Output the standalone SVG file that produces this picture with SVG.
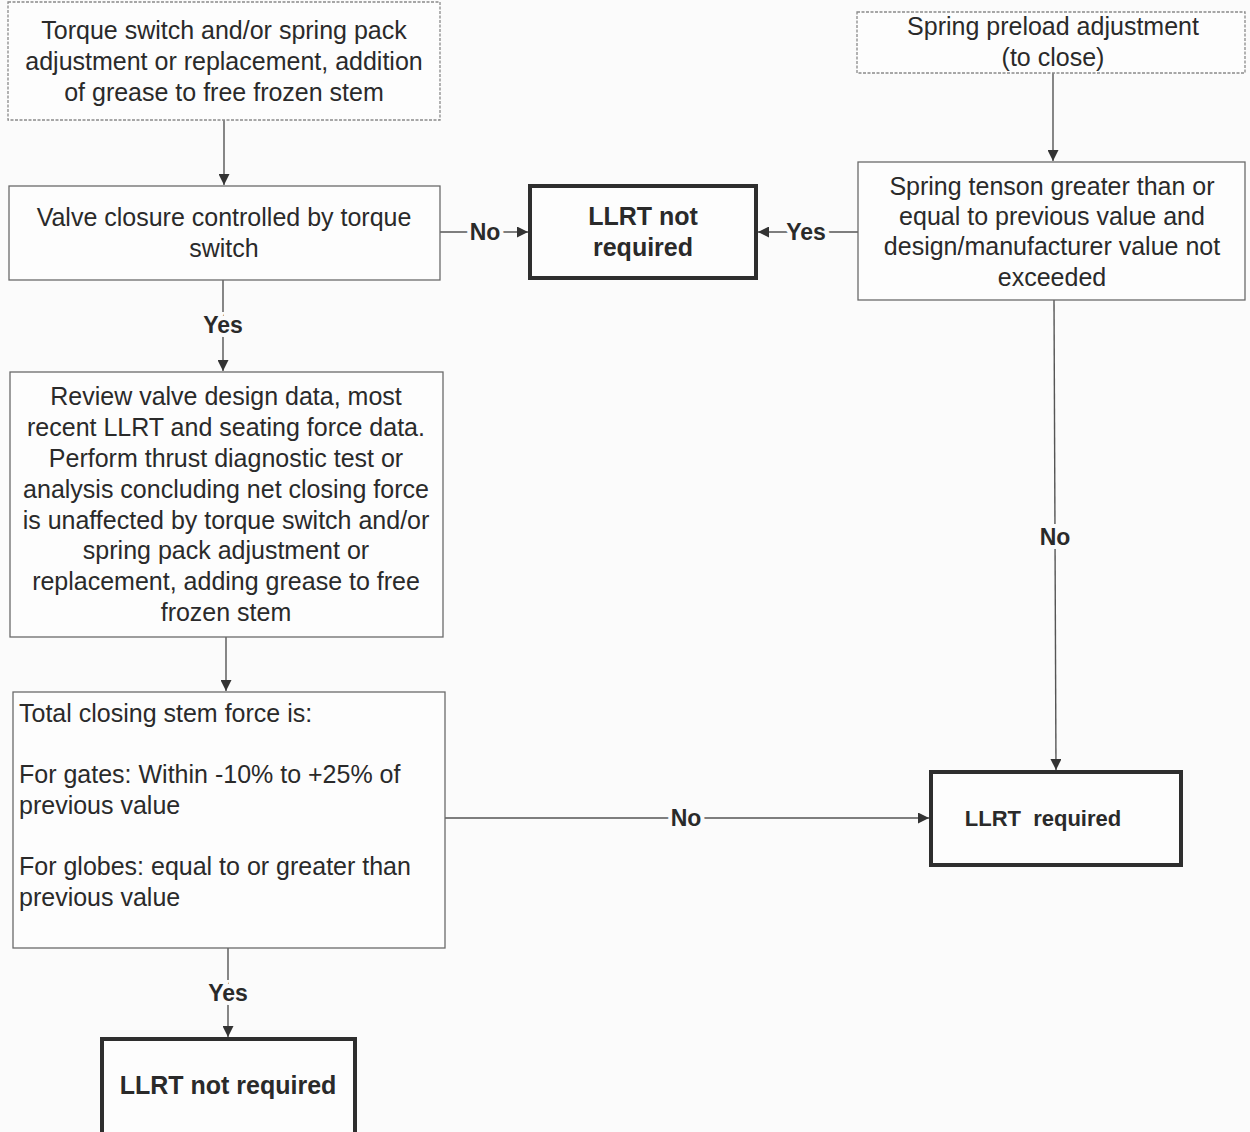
<svg xmlns="http://www.w3.org/2000/svg" width="1250" height="1132" viewBox="0 0 1250 1132">
<defs>
<style>
.bg{fill:#fbfbfb}
.box{fill:#fdfdfd;stroke:#6a6a6a;stroke-width:1.3}
.dbox{fill:#fdfdfd;stroke:#8a8a8a;stroke-width:1.3;stroke-dasharray:3 1.5}
.tbox{fill:#fdfdfd;stroke:#2e2e2e;stroke-width:4}
.t{font-family:"Liberation Sans",Arial,sans-serif;font-size:25px;fill:#2a2a2a;text-anchor:middle}
.tl{font-family:"Liberation Sans",Arial,sans-serif;font-size:25px;fill:#2a2a2a}
.b{font-family:"Liberation Sans",Arial,sans-serif;font-size:25px;font-weight:bold;fill:#2a2a2a;text-anchor:middle}
.lab{font-family:"Liberation Sans",Arial,sans-serif;font-size:23px;font-weight:bold;fill:#2a2a2a;text-anchor:middle;stroke:#fbfbfb;stroke-width:8;paint-order:stroke}
.c{stroke:#555;stroke-width:1.4;fill:none}
</style>
<marker id="ah" viewBox="0 0 10 10" refX="10" refY="5" markerWidth="11" markerHeight="11" markerUnits="userSpaceOnUse" orient="auto">
<path d="M0,0 L10,5 L0,10 Z" fill="#333"/>
</marker>
</defs>
<rect class="bg" x="0" y="0" width="1250" height="1132"/>
<g id="connectors">
<line class="c" x1="224" y1="120" x2="224" y2="185" marker-end="url(#ah)"/>
<line class="c" x1="440" y1="232" x2="528" y2="232" marker-end="url(#ah)"/>
<line class="c" x1="858" y1="232" x2="758" y2="232" marker-end="url(#ah)"/>
<line class="c" x1="1053" y1="72" x2="1053" y2="161" marker-end="url(#ah)"/>
<line class="c" x1="223" y1="280" x2="223" y2="371" marker-end="url(#ah)"/>
<line class="c" x1="1054" y1="300" x2="1056" y2="770" marker-end="url(#ah)"/>
<line class="c" x1="226" y1="637" x2="226" y2="691" marker-end="url(#ah)"/>
<line class="c" x1="445" y1="818" x2="929" y2="818" marker-end="url(#ah)"/>
<line class="c" x1="228" y1="948" x2="228" y2="1037" marker-end="url(#ah)"/>
<text class="lab" x="485" y="240">No</text>
<text class="lab" x="806" y="240">Yes</text>
<text class="lab" x="223" y="333">Yes</text>
<text class="lab" x="1055" y="545">No</text>
<text class="lab" x="686" y="826">No</text>
<text class="lab" x="228" y="1001">Yes</text>
</g>
<g id="n1">
<rect class="dbox" x="8" y="2" width="432" height="118"/>
<text class="t" x="224" y="39">Torque switch and/or spring pack</text>
<text class="t" x="224" y="70">adjustment or replacement, addition</text>
<text class="t" x="224" y="101">of grease to free frozen stem</text>
</g>
<g id="n2">
<rect class="box" x="9" y="186" width="431" height="94"/>
<text class="t" x="224" y="226">Valve closure controlled by torque</text>
<text class="t" x="224" y="257">switch</text>
</g>
<g id="n3">
<rect class="tbox" x="530" y="186" width="226" height="92"/>
<text class="b" x="643" y="225">LLRT not</text>
<text class="b" x="643" y="256">required</text>
</g>
<g id="n4">
<rect class="dbox" x="857" y="12" width="388" height="61"/>
<text class="t" x="1053" y="35">Spring preload adjustment</text>
<text class="t" x="1053" y="66">(to close)</text>
</g>
<g id="n5">
<rect class="box" x="858" y="162" width="387" height="138"/>
<text class="t" x="1052" y="195">Spring tenson greater than or</text>
<text class="t" x="1052" y="225">equal to previous value and</text>
<text class="t" x="1052" y="255">design/manufacturer value not</text>
<text class="t" x="1052" y="286">exceeded</text>
</g>
<g id="n6">
<rect class="box" x="10" y="372" width="433" height="265"/>
<text class="t" x="226" y="405">Review valve design data, most</text>
<text class="t" x="226" y="436">recent LLRT and seating force data.</text>
<text class="t" x="226" y="467">Perform thrust diagnostic test or</text>
<text class="t" x="226" y="498">analysis concluding net closing force</text>
<text class="t" x="226" y="529">is unaffected by torque switch and/or</text>
<text class="t" x="226" y="559">spring pack adjustment or</text>
<text class="t" x="226" y="590">replacement, adding grease to free</text>
<text class="t" x="226" y="621">frozen stem</text>
</g>
<g id="n7">
<rect class="box" x="13" y="692" width="432" height="256"/>
<text class="tl" x="19" y="722">Total closing stem force is:</text>
<text class="tl" x="19" y="783">For gates: Within -10% to +25% of</text>
<text class="tl" x="19" y="814">previous value</text>
<text class="tl" x="19" y="875">For globes: equal to or greater than</text>
<text class="tl" x="19" y="906">previous value</text>
</g>
<g id="n8">
<rect class="tbox" x="931" y="772" width="250" height="93"/>
<text class="b" x="1043" y="826" style="font-size:22px;white-space:pre" xml:space="preserve">LLRT  required</text>
</g>
<g id="n9">
<rect class="tbox" x="102" y="1039" width="253" height="100"/>
<text class="b" x="228" y="1094">LLRT not required</text>
</g>
</svg>
